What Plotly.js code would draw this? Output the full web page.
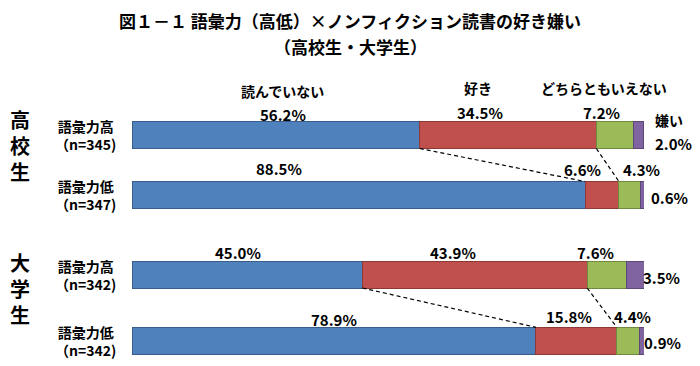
<!DOCTYPE html>
<html><head><meta charset="utf-8">
<script src="https://cdn.plot.ly/plotly-3.0.1.min.js"></script>
<style>html,body{margin:0;padding:0;background:#fff}</style>
</head><body><div id="chart" style="width:700px;height:366px"></div>
<script>
// ---- data ----
const titleLines = ['図１－１ 語彙力（高低）×ノンフィクション読書の好き嫌い', '（高校生・大学生）'];
const groups = ['高校生', '大学生'];
const levels = ['語彙力高', '語彙力低', '語彙力高', '語彙力低'];
const sampleN = [345, 347, 342, 342];
const seriesNames = ['読んでいない', '好き', 'どちらともいえない', '嫌い'];
const notRead = [56.2, 88.5, 45.0, 78.9];
const like = [34.5, 6.6, 43.9, 15.8];
const neither = [7.2, 4.3, 7.6, 4.4];
const dislike = [2.0, 0.6, 3.5, 0.9];

// ---- layout / style ----
const W = 700, H = 366;
const M = {l: 132, r: 56, t: 95, b: 0};
const rowPos = [0, 1, 2.325, 3.43];
const barW = 0.45;
const colors = ['#4F81BD', '#C0504D', '#9BBB59', '#8064A2'];
const edge = ['#385D8A', '#8C3836', '#71893F', '#5C4776'];
const FONT = '"Noto Sans CJK JP", "Noto Sans", sans-serif';
const series = [notRead, like, neither, dislike];

// label pixel shifts [dx, dy] per series per row (dy: screen-down positive)
const valueShift = [
  [[7, -21], [-80, -27], [-9, -22], [0, -21]],
  [[-28, -23], [-20, -26], [-22, -22], [-7, -24]],
  [[-13, -23], [12, -26], [-11, -22], [4, -24]],
  [[35, 8], [27, 2], [26, 3], [21, 2]]
];
const nameShift = [[7, -44], [-30, -47], [-11, -47], [31, -15]];

const px = x => (x - M.l) / (W - M.l - M.r);
const py = y => (H - M.b - y) / (H - M.t - M.b);

const traces = series.map((vals, s) => ({
  type: 'bar', orientation: 'h', name: seriesNames[s],
  x: vals, y: rowPos, width: barW,
  marker: {color: colors[s], line: {color: edge[s], width: 1}},
  hoverinfo: 'skip', showlegend: false
}));

// cumulative starts
const starts = series.map((_, s) => rowPos.map((_, r) => {
  let a = 0; for (let k = 0; k < s; k++) a += series[k][r]; return a;
}));

// dashed connector lines (HS: rows 0->1, Univ: rows 2->3)
[[0, 1], [2, 3]].forEach(([a, b]) => {
  [1, 2].forEach(s => {
    traces.push({
      type: 'scatter', mode: 'lines',
      x: [starts[s][a], starts[s][b]],
      y: [rowPos[a] + barW / 2, rowPos[b] - barW / 2],
      line: {color: '#000', width: 1.2, dash: '4px,3px'},
      hoverinfo: 'skip', showlegend: false
    });
  });
});

const ann = [];
const bold = size => ({family: FONT, size: size, color: '#000', weight: 700});
series.forEach((vals, s) => {
  vals.forEach((v, r) => {
    const [dx, dy] = valueShift[s][r];
    ann.push({xref: 'x', yref: 'y', x: starts[s][r] + v / 2, y: rowPos[r],
      text: v.toFixed(1) + '%', showarrow: false, xshift: dx, yshift: -dy,
      xanchor: 'center', yanchor: 'middle', font: bold(15)});
  });
  const [dx, dy] = nameShift[s];
  ann.push({xref: 'x', yref: 'y', x: starts[s][0] + series[s][0] / 2, y: rowPos[0],
    text: seriesNames[s], showarrow: false, xshift: dx, yshift: -dy,
    xanchor: 'center', yanchor: 'middle', font: bold(14)});
});
// row labels
levels.forEach((lv, r) => {
  ann.push({xref: 'paper', yref: 'y', x: px(85), y: rowPos[r], yshift: 0,
    text: lv + '<br>（n=' + sampleN[r] + ')', showarrow: false,
    xanchor: 'center', yanchor: 'middle', font: bold(14)});
});
// group labels (vertical)
const groupCenters = [145, 288];
groups.forEach((g, i) => {
  ann.push({xref: 'paper', yref: 'paper', x: px(20), y: py(groupCenters[i]),
    text: Array.from(g).join('<br>'), showarrow: false, xanchor: 'center', yanchor: 'middle', font: bold(20)});
});
// title lines
const titleY = [20, 47];
titleLines.forEach((t, i) => {
  ann.push({xref: 'paper', yref: 'paper', x: px(350), y: py(titleY[i]),
    text: t, showarrow: false, xanchor: 'center', yanchor: 'middle', font: bold(17)});
});

const layout = {
  width: W, height: H, margin: M,
  paper_bgcolor: '#fff', plot_bgcolor: '#fff',
  barmode: 'stack', bargap: 0,
  xaxis: {range: [0, 100], showgrid: false, zeroline: false, showticklabels: false, showline: false, fixedrange: true},
  yaxis: {range: [3.85, -0.667], showgrid: false, zeroline: false, showticklabels: false, showline: false, fixedrange: true},
  annotations: ann,
  showlegend: false
};
Plotly.newPlot('chart', traces, layout, {displayModeBar: false, staticPlot: true});
</script></body></html>
